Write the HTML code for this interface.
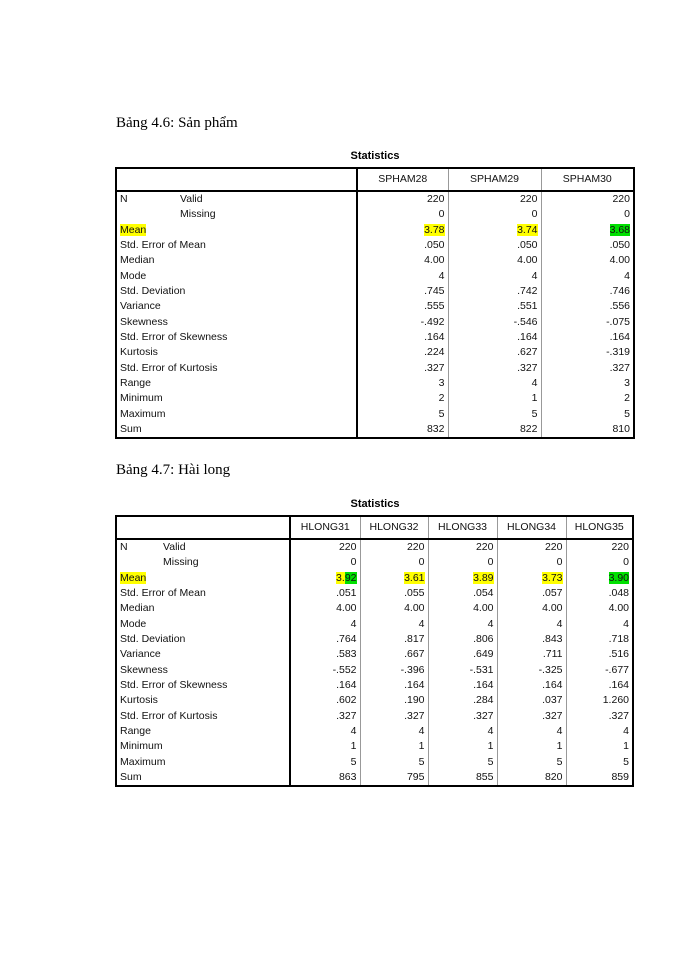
<!DOCTYPE html>
<html><head><meta charset="utf-8"><style>
body{margin:0;width:700px;height:960px;background:#fff;position:relative;font-family:"Liberation Sans",Arial,sans-serif;}
.t{position:absolute;font-family:"Liberation Serif","Times New Roman",serif;font-size:15px;color:#000;}
.st{position:absolute;font-weight:bold;font-size:11px;width:100px;text-align:center;}
table{position:absolute;border-collapse:collapse;table-layout:fixed;border:2px solid #000;font-size:10.5px;color:#111;}
td{padding:0 3px;height:15.33px;line-height:15px;white-space:nowrap;overflow:hidden;border-left:1px solid #999;}
tr.h td{height:21px;text-align:center;border-bottom:2px solid #000;}
td.n{text-align:right;}
td.l{border-left:none;}
td.sep{border-left:2px solid #000;}
.y{background:#ffff00;}
.g{background:#00e000;}
</style></head><body>
<div class="t" style="left:116px;top:115px">Bảng 4.6: Sản phẩm</div>
<div class="st" style="left:325px;top:150px">Statistics</div>
<table style="left:115px;top:167px;width:520px">
<colgroup><col style="width:61px"><col style="width:180px"><col style="width:91px"><col style="width:93px"><col style="width:93px"></colgroup>
<tr class="h"><td class="l"></td><td class="l"></td><td class="sep">SPHAM28</td><td>SPHAM29</td><td>SPHAM30</td></tr>
<tr><td class="l">N</td><td class="l">Valid</td><td class="n sep">220</td><td class="n">220</td><td class="n">220</td></tr>
<tr><td class="l"></td><td class="l">Missing</td><td class="n sep">0</td><td class="n">0</td><td class="n">0</td></tr>
<tr><td class="l" colspan="2"><span class="y">Mean</span></td><td class="n sep"><span class="y">3.78</span></td><td class="n"><span class="y">3.74</span></td><td class="n"><span class="g">3.68</span></td></tr>
<tr><td class="l" colspan="2">Std. Error of Mean</td><td class="n sep">.050</td><td class="n">.050</td><td class="n">.050</td></tr>
<tr><td class="l" colspan="2">Median</td><td class="n sep">4.00</td><td class="n">4.00</td><td class="n">4.00</td></tr>
<tr><td class="l" colspan="2">Mode</td><td class="n sep">4</td><td class="n">4</td><td class="n">4</td></tr>
<tr><td class="l" colspan="2">Std. Deviation</td><td class="n sep">.745</td><td class="n">.742</td><td class="n">.746</td></tr>
<tr><td class="l" colspan="2">Variance</td><td class="n sep">.555</td><td class="n">.551</td><td class="n">.556</td></tr>
<tr><td class="l" colspan="2">Skewness</td><td class="n sep">-.492</td><td class="n">-.546</td><td class="n">-.075</td></tr>
<tr><td class="l" colspan="2">Std. Error of Skewness</td><td class="n sep">.164</td><td class="n">.164</td><td class="n">.164</td></tr>
<tr><td class="l" colspan="2">Kurtosis</td><td class="n sep">.224</td><td class="n">.627</td><td class="n">-.319</td></tr>
<tr><td class="l" colspan="2">Std. Error of Kurtosis</td><td class="n sep">.327</td><td class="n">.327</td><td class="n">.327</td></tr>
<tr><td class="l" colspan="2">Range</td><td class="n sep">3</td><td class="n">4</td><td class="n">3</td></tr>
<tr><td class="l" colspan="2">Minimum</td><td class="n sep">2</td><td class="n">1</td><td class="n">2</td></tr>
<tr><td class="l" colspan="2">Maximum</td><td class="n sep">5</td><td class="n">5</td><td class="n">5</td></tr>
<tr><td class="l" colspan="2">Sum</td><td class="n sep">832</td><td class="n">822</td><td class="n">810</td></tr>
</table>

<div class="t" style="left:116px;top:462px">Bảng 4.7: Hài long</div>
<div class="st" style="left:325px;top:498px">Statistics</div>
<table style="left:115px;top:515px;width:519px">
<colgroup><col style="width:44px"><col style="width:130px"><col style="width:70px"><col style="width:68px"><col style="width:69px"><col style="width:69px"><col style="width:67px"></colgroup>
<tr class="h"><td class="l"></td><td class="l"></td><td class="sep">HLONG31</td><td>HLONG32</td><td>HLONG33</td><td>HLONG34</td><td>HLONG35</td></tr>
<tr><td class="l">N</td><td class="l">Valid</td><td class="n sep">220</td><td class="n">220</td><td class="n">220</td><td class="n">220</td><td class="n">220</td></tr>
<tr><td class="l"></td><td class="l">Missing</td><td class="n sep">0</td><td class="n">0</td><td class="n">0</td><td class="n">0</td><td class="n">0</td></tr>
<tr><td class="l" colspan="2"><span class="y">Mean</span></td><td class="n sep"><span class="y">3.</span><span class="g">92</span></td><td class="n"><span class="y">3.61</span></td><td class="n"><span class="y">3.89</span></td><td class="n"><span class="y">3.73</span></td><td class="n"><span class="g">3.90</span></td></tr>
<tr><td class="l" colspan="2">Std. Error of Mean</td><td class="n sep">.051</td><td class="n">.055</td><td class="n">.054</td><td class="n">.057</td><td class="n">.048</td></tr>
<tr><td class="l" colspan="2">Median</td><td class="n sep">4.00</td><td class="n">4.00</td><td class="n">4.00</td><td class="n">4.00</td><td class="n">4.00</td></tr>
<tr><td class="l" colspan="2">Mode</td><td class="n sep">4</td><td class="n">4</td><td class="n">4</td><td class="n">4</td><td class="n">4</td></tr>
<tr><td class="l" colspan="2">Std. Deviation</td><td class="n sep">.764</td><td class="n">.817</td><td class="n">.806</td><td class="n">.843</td><td class="n">.718</td></tr>
<tr><td class="l" colspan="2">Variance</td><td class="n sep">.583</td><td class="n">.667</td><td class="n">.649</td><td class="n">.711</td><td class="n">.516</td></tr>
<tr><td class="l" colspan="2">Skewness</td><td class="n sep">-.552</td><td class="n">-.396</td><td class="n">-.531</td><td class="n">-.325</td><td class="n">-.677</td></tr>
<tr><td class="l" colspan="2">Std. Error of Skewness</td><td class="n sep">.164</td><td class="n">.164</td><td class="n">.164</td><td class="n">.164</td><td class="n">.164</td></tr>
<tr><td class="l" colspan="2">Kurtosis</td><td class="n sep">.602</td><td class="n">.190</td><td class="n">.284</td><td class="n">.037</td><td class="n">1.260</td></tr>
<tr><td class="l" colspan="2">Std. Error of Kurtosis</td><td class="n sep">.327</td><td class="n">.327</td><td class="n">.327</td><td class="n">.327</td><td class="n">.327</td></tr>
<tr><td class="l" colspan="2">Range</td><td class="n sep">4</td><td class="n">4</td><td class="n">4</td><td class="n">4</td><td class="n">4</td></tr>
<tr><td class="l" colspan="2">Minimum</td><td class="n sep">1</td><td class="n">1</td><td class="n">1</td><td class="n">1</td><td class="n">1</td></tr>
<tr><td class="l" colspan="2">Maximum</td><td class="n sep">5</td><td class="n">5</td><td class="n">5</td><td class="n">5</td><td class="n">5</td></tr>
<tr><td class="l" colspan="2">Sum</td><td class="n sep">863</td><td class="n">795</td><td class="n">855</td><td class="n">820</td><td class="n">859</td></tr>
</table>
</body></html>
